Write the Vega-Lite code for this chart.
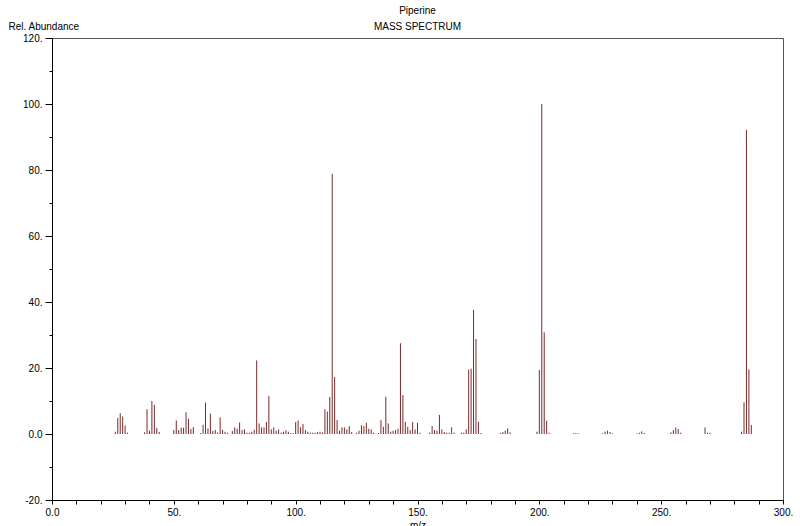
{
  "$schema": "https://vega.github.io/schema/vega-lite/v6.json",
  "autosize": "none",
  "width": 731,
  "height": 462,
  "padding": {"left": 52, "top": 38, "right": 17, "bottom": 26},
  "background": "white",
  "config": {
    "font": "Liberation Sans",
    "view": {"stroke": "#555555", "strokeWidth": 1}
  },
  "title": {
    "text": "Piperine",
    "subtitle": "MASS SPECTRUM",
    "anchor": "middle",
    "frame": "group",
    "fontSize": 10,
    "fontWeight": "normal",
    "subtitleFontSize": 10,
    "subtitlePadding": 6,
    "offset": -11,
    "color": "black",
    "subtitleColor": "black"
  },
  "data": {
    "values": [
      {"mz": 26, "abundance": 0.7}, {"mz": 27, "abundance": 4.9}, {"mz": 28, "abundance": 6.3}, {"mz": 29, "abundance": 5.3}, {"mz": 30, "abundance": 2.6}, {"mz": 31, "abundance": 0.4},
      {"mz": 38, "abundance": 0.5}, {"mz": 39, "abundance": 7.5}, {"mz": 40, "abundance": 1.0}, {"mz": 41, "abundance": 10.0}, {"mz": 42, "abundance": 8.8}, {"mz": 43, "abundance": 1.8}, {"mz": 44, "abundance": 0.6},
      {"mz": 50, "abundance": 1.2}, {"mz": 51, "abundance": 4.1}, {"mz": 52, "abundance": 1.2}, {"mz": 53, "abundance": 1.9}, {"mz": 54, "abundance": 1.9}, {"mz": 55, "abundance": 6.6}, {"mz": 56, "abundance": 4.6}, {"mz": 57, "abundance": 1.5}, {"mz": 58, "abundance": 2.1},
      {"mz": 61, "abundance": 0.3}, {"mz": 62, "abundance": 2.8}, {"mz": 63, "abundance": 9.5}, {"mz": 64, "abundance": 1.7}, {"mz": 65, "abundance": 6.2}, {"mz": 66, "abundance": 0.9}, {"mz": 67, "abundance": 1.2}, {"mz": 68, "abundance": 0.4}, {"mz": 69, "abundance": 5.0}, {"mz": 70, "abundance": 1.2}, {"mz": 71, "abundance": 0.7}, {"mz": 72, "abundance": 0.4},
      {"mz": 74, "abundance": 0.9}, {"mz": 75, "abundance": 2.0}, {"mz": 76, "abundance": 1.6}, {"mz": 77, "abundance": 3.5}, {"mz": 78, "abundance": 1.2}, {"mz": 79, "abundance": 1.4}, {"mz": 80, "abundance": 0.4}, {"mz": 81, "abundance": 0.4}, {"mz": 82, "abundance": 0.7}, {"mz": 83, "abundance": 1.3}, {"mz": 84, "abundance": 22.3},
      {"mz": 85, "abundance": 3.2}, {"mz": 86, "abundance": 2.0}, {"mz": 87, "abundance": 2.0}, {"mz": 88, "abundance": 3.6}, {"mz": 89, "abundance": 11.5}, {"mz": 90, "abundance": 1.4}, {"mz": 91, "abundance": 2.0}, {"mz": 92, "abundance": 1.0}, {"mz": 93, "abundance": 1.4}, {"mz": 94, "abundance": 0.4}, {"mz": 95, "abundance": 0.7}, {"mz": 96, "abundance": 1.1}, {"mz": 97, "abundance": 0.7}, {"mz": 98, "abundance": 0.3}, {"mz": 99, "abundance": 0.3},
      {"mz": 100, "abundance": 3.6}, {"mz": 101, "abundance": 4.1}, {"mz": 102, "abundance": 2.0}, {"mz": 103, "abundance": 3.0}, {"mz": 104, "abundance": 1.2}, {"mz": 105, "abundance": 0.7}, {"mz": 106, "abundance": 0.4}, {"mz": 107, "abundance": 0.4}, {"mz": 108, "abundance": 0.4}, {"mz": 109, "abundance": 0.6}, {"mz": 110, "abundance": 0.7}, {"mz": 111, "abundance": 0.5},
      {"mz": 112, "abundance": 7.5}, {"mz": 113, "abundance": 6.8}, {"mz": 114, "abundance": 11.2}, {"mz": 115, "abundance": 78.8}, {"mz": 116, "abundance": 17.3}, {"mz": 117, "abundance": 4.2}, {"mz": 118, "abundance": 1.0}, {"mz": 119, "abundance": 2.0}, {"mz": 120, "abundance": 2.0}, {"mz": 121, "abundance": 1.4}, {"mz": 122, "abundance": 2.4}, {"mz": 123, "abundance": 0.6},
      {"mz": 125, "abundance": 0.4}, {"mz": 126, "abundance": 1.0}, {"mz": 127, "abundance": 2.7}, {"mz": 128, "abundance": 2.4}, {"mz": 129, "abundance": 3.4}, {"mz": 130, "abundance": 1.6}, {"mz": 131, "abundance": 1.4}, {"mz": 132, "abundance": 0.4},
      {"mz": 134, "abundance": 0.3}, {"mz": 135, "abundance": 4.2}, {"mz": 136, "abundance": 2.2}, {"mz": 137, "abundance": 11.3}, {"mz": 138, "abundance": 3.2}, {"mz": 139, "abundance": 0.7}, {"mz": 140, "abundance": 1.0}, {"mz": 141, "abundance": 1.2}, {"mz": 142, "abundance": 1.6}, {"mz": 143, "abundance": 27.5}, {"mz": 144, "abundance": 11.8}, {"mz": 145, "abundance": 3.7}, {"mz": 146, "abundance": 2.2}, {"mz": 147, "abundance": 1.2}, {"mz": 148, "abundance": 3.6}, {"mz": 149, "abundance": 1.4}, {"mz": 150, "abundance": 3.4}, {"mz": 151, "abundance": 0.4},
      {"mz": 155, "abundance": 0.4}, {"mz": 156, "abundance": 2.4}, {"mz": 157, "abundance": 1.2}, {"mz": 158, "abundance": 1.0}, {"mz": 159, "abundance": 5.8}, {"mz": 160, "abundance": 1.4}, {"mz": 161, "abundance": 0.6}, {"mz": 162, "abundance": 0.4}, {"mz": 163, "abundance": 0.4}, {"mz": 164, "abundance": 2.0}, {"mz": 165, "abundance": 0.4},
      {"mz": 168, "abundance": 0.4}, {"mz": 169, "abundance": 0.4}, {"mz": 170, "abundance": 1.4}, {"mz": 171, "abundance": 19.5}, {"mz": 172, "abundance": 19.8}, {"mz": 173, "abundance": 37.6}, {"mz": 174, "abundance": 28.8}, {"mz": 175, "abundance": 3.7}, {"mz": 176, "abundance": 0.3},
      {"mz": 184, "abundance": 0.3}, {"mz": 185, "abundance": 0.6}, {"mz": 186, "abundance": 1.0}, {"mz": 187, "abundance": 1.7}, {"mz": 188, "abundance": 0.5},
      {"mz": 199, "abundance": 0.7}, {"mz": 200, "abundance": 19.4}, {"mz": 201, "abundance": 100.0}, {"mz": 202, "abundance": 30.8}, {"mz": 203, "abundance": 4.0}, {"mz": 204, "abundance": 0.4},
      {"mz": 214, "abundance": 0.2}, {"mz": 215, "abundance": 0.3}, {"mz": 216, "abundance": 0.2},
      {"mz": 226, "abundance": 0.2}, {"mz": 227, "abundance": 0.7}, {"mz": 228, "abundance": 1.0}, {"mz": 229, "abundance": 0.6}, {"mz": 230, "abundance": 0.2},
      {"mz": 240, "abundance": 0.2}, {"mz": 241, "abundance": 0.4}, {"mz": 242, "abundance": 0.8}, {"mz": 243, "abundance": 0.3},
      {"mz": 254, "abundance": 0.5}, {"mz": 255, "abundance": 1.2}, {"mz": 256, "abundance": 2.0}, {"mz": 257, "abundance": 1.5}, {"mz": 258, "abundance": 0.4},
      {"mz": 268, "abundance": 2.0}, {"mz": 269, "abundance": 0.4}, {"mz": 270, "abundance": 0.4},
      {"mz": 283, "abundance": 0.7}, {"mz": 284, "abundance": 9.6}, {"mz": 285, "abundance": 92.1}, {"mz": 286, "abundance": 19.6}, {"mz": 287, "abundance": 2.7}
    ]
  },
  "mark": {"type": "rule", "color": "#7a2a2a", "strokeWidth": 1},
  "encoding": {
    "x": {
      "field": "mz",
      "type": "quantitative",
      "scale": {"domain": [0, 300], "nice": false, "zero": false},
      "axis": {
        "title": "m/z",
        "titleFontSize": 10,
        "titleFontWeight": "normal",
        "titleColor": "black",
        "titleBaseline": "top",
        "titleY": 20,
        "values": [0, 10, 20, 30, 40, 50, 60, 70, 80, 90, 100, 110, 120, 130, 140, 150, 160, 170, 180, 190, 200, 210, 220, 230, 240, 250, 260, 270, 280, 290, 300],
        "labelExpr": "datum.value % 50 == 0 ? (datum.value == 0 ? '0.0' : datum.value + '.') : ''",
        "labelFontSize": 10,
        "labelColor": "black",
        "labelPadding": 3,
        "labelFlush": false,
        "labelOverlap": false,
        "tickSize": 4,
        "tickColor": "black",
        "domainColor": "black",
        "grid": false
      }
    },
    "y": {
      "field": "abundance",
      "type": "quantitative",
      "scale": {"domain": [-20, 120], "nice": false, "zero": false},
      "axis": {
        "title": "Rel. Abundance",
        "titleAngle": 0,
        "titleAlign": "left",
        "titleBaseline": "alphabetic",
        "titleX": -44,
        "titleY": -9,
        "titleFontSize": 10,
        "titleFontWeight": "normal",
        "titleColor": "black",
        "values": [-20, -10, 0, 10, 20, 30, 40, 50, 60, 70, 80, 90, 100, 110, 120],
        "labelExpr": "datum.value % 20 == 0 ? (datum.value == 0 ? '0.0' : datum.value + '.') : ''",
        "labelFontSize": 10,
        "labelColor": "black",
        "labelPadding": 3,
        "labelFlush": false,
        "labelOverlap": false,
        "tickSize": {"condition": {"test": "datum.value % 20 == 0", "value": 7}, "value": 3},
        "tickColor": "black",
        "domainColor": "black",
        "grid": false
      }
    },
    "y2": {"datum": 0}
  }
}
